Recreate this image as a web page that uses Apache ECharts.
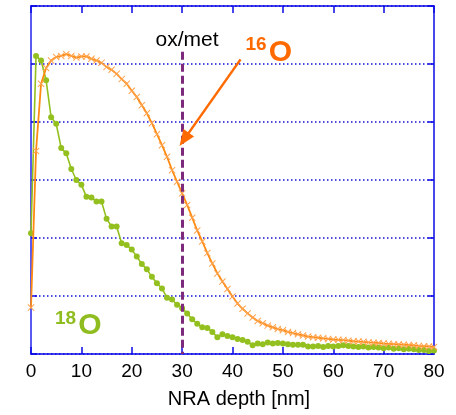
<!DOCTYPE html>
<html><head><meta charset="utf-8">
<script src="https://cdn.jsdelivr.net/npm/echarts@6/dist/echarts.min.js"></script>
<style>html,body{margin:0;padding:0;background:#fff}#c{width:456px;height:415px}</style>
</head><body><div id="c"></div>
<script>
const depthNm = [0,1,2,3,4,5,6,7,8,9,10,11,12,13,14,15,16,17,18,19,20,21,22,23,24,25,26,27,28,29,30,
  31,32,33,34,35,36,37,38,39,40,41,42,43,44,45,46,47,48,49,50,51,52,53,54,55,56,57,58,59,60,
  61,62,63,64,65,66,67,68,69,70,71,72,73,74,75,76,77,78,79,80];
const o16 = [0.80,3.50,4.66,4.93,5.06,5.12,5.14,5.17,5.14,5.11,5.13,5.13,5.09,5.06,5.02,4.95,4.90,4.83,4.74,4.66,4.54,
  4.43,4.29,4.15,3.98,3.79,3.60,3.40,3.17,2.97,2.77,2.57,2.35,2.13,1.94,1.74,1.56,1.39,1.25,1.12,0.99,
  0.87,0.78,0.70,0.63,0.57,0.53,0.49,0.46,0.43,0.41,0.38,0.36,0.34,0.32,0.30,0.29,0.28,0.27,0.26,0.25,
  0.245,0.24,0.23,0.22,0.215,0.21,0.20,0.195,0.19,0.18,0.175,0.17,0.165,0.16,0.155,0.15,0.14,0.135,0.13,0.12];
const o18 = [2.08,5.14,5.06,4.72,4.08,3.97,3.55,3.46,3.19,3.00,2.92,2.71,2.70,2.63,2.63,2.33,2.20,2.20,1.91,1.88,1.80,
  1.68,1.55,1.46,1.33,1.22,1.13,0.97,0.94,0.85,0.79,0.70,0.60,0.52,0.46,0.45,0.38,0.29,0.34,0.31,0.29,
  0.26,0.24,0.21,0.15,0.18,0.17,0.20,0.18,0.19,0.18,0.17,0.16,0.16,0.16,0.13,0.13,0.14,0.12,0.14,0.13,
  0.14,0.15,0.14,0.13,0.12,0.13,0.11,0.12,0.11,0.10,0.11,0.09,0.10,0.08,0.09,0.08,0.07,0.07,0.05,0.06];
const xTicks = [0,80,10];
const yTicks = [0,6,1];
const oxMetDepth = 30;
const oxMetTop = 5.21;
const arrowFrom = [41.6, 5.08];
const arrowTo = [30.4, 3.70];

const FF = '"Liberation Sans", Arial, sans-serif';
const BLUE = '#0a0ae6';
const pair = (xs, ys) => xs.map((x, i) => [x, ys[i]]);
const XSYM = 'path://M0,1L1,0L5,4L9,0L10,1L6,5L10,9L9,10L5,6L1,10L0,9L4,5Z';

const chart = echarts.init(document.getElementById('c'), null, {renderer: 'canvas'});
const axBase = {
  type: 'value',
  axisLine: {show: true, onZero: false, lineStyle: {color: BLUE, width: 1.5}},
  axisTick: {show: true, inside: true, length: 7, lineStyle: {color: BLUE, width: 1.5}},
  axisLabel: {show: false},
  splitLine: {show: false}
};
chart.setOption({
  animation: false,
  grid: {left: 31, right: 22, top: 6, bottom: 61, containLabel: false},
  xAxis: [
    Object.assign({}, axBase, {
      position: 'bottom', min: xTicks[0], max: xTicks[1], interval: xTicks[2],
      axisLabel: {show: true, fontSize: 19, color: '#000', margin: 8, fontFamily: FF},
      name: 'NRA depth [nm]', nameLocation: 'middle', nameGap: 35,
      nameTextStyle: {fontSize: 20, color: '#000', fontFamily: FF, padding: [0, 0, 0, 13]}
    }),
    Object.assign({}, axBase, {position: 'top', min: xTicks[0], max: xTicks[1], interval: xTicks[2]})
  ],
  yAxis: [
    Object.assign({}, axBase, {
      position: 'left', min: yTicks[0], max: yTicks[1], interval: yTicks[2],
      axisLine: {show: true, onZero: false, lineStyle: {color: '#5a5af0', width: 2}},
      axisTick: {show: true, inside: true, length: 6, lineStyle: {color: BLUE, width: 1.5}},
      splitLine: {show: true, lineStyle: {color: '#1010e0', width: 1.5, type: [1.5, 2.5]}}
    }),
    Object.assign({}, axBase, {
      position: 'right', min: yTicks[0], max: yTicks[1], interval: yTicks[2],
      axisTick: {show: true, inside: true, length: 6, lineStyle: {color: BLUE, width: 1.5}}
    })
  ],
  series: [
    {
      name: '18O', type: 'line', xAxisIndex: 0, yAxisIndex: 0,
      data: pair(depthNm, o18),
      symbol: 'circle', symbolSize: 6, showSymbol: true,
      itemStyle: {color: '#93c01f'},
      lineStyle: {color: '#93c01f', width: 1.6},
      z: 3,
      markLine: {
        silent: true, symbol: ['none', 'none'], label: {show: false},
        lineStyle: {color: '#7d2a7d', width: 3, type: [8, 4]},
        data: [[{coord: [oxMetDepth, oxMetTop]}, {coord: [oxMetDepth, 0]}]]
      }
    },
    {
      name: '16O', type: 'line', xAxisIndex: 0, yAxisIndex: 0,
      data: pair(depthNm, o16),
      symbol: XSYM, symbolSize: 7, showSymbol: true,
      itemStyle: {color: '#ffa44f'},
      lineStyle: {color: '#ff8a12', width: 1.8},
      z: 4,
      markLine: {
        silent: true, symbol: ['none', 'triangle'], symbolSize: [13, 16], label: {show: false},
        lineStyle: {color: '#ff6a00', width: 2.5, type: 'solid'},
        data: [[{coord: arrowFrom}, {coord: arrowTo}]]
      }
    }
  ],
  graphic: [
    {type: 'text', x: 187, y: 40, z: 100, style: {text: 'ox/met', font: '21px ' + FF, fill: '#000', align: 'center', verticalAlign: 'middle'}},
    {type: 'text', x: 256, y: 45, z: 100, style: {text: '16', font: 'bold 19px ' + FF, fill: '#ff6a00', align: 'center', verticalAlign: 'middle'}},
    {type: 'text', x: 280.5, y: 53, z: 100, style: {text: 'O', font: 'bold 30px ' + FF, fill: '#ff6a00', align: 'center', verticalAlign: 'middle'}},
    {type: 'text', x: 65.5, y: 319, z: 100, style: {text: '18', font: 'bold 19px ' + FF, fill: '#8fbc1e', align: 'center', verticalAlign: 'middle'}},
    {type: 'text', x: 90, y: 325.5, z: 100, style: {text: 'O', font: 'bold 30px ' + FF, fill: '#8fbc1e', align: 'center', verticalAlign: 'middle'}}
  ]
});
</script></body></html>
